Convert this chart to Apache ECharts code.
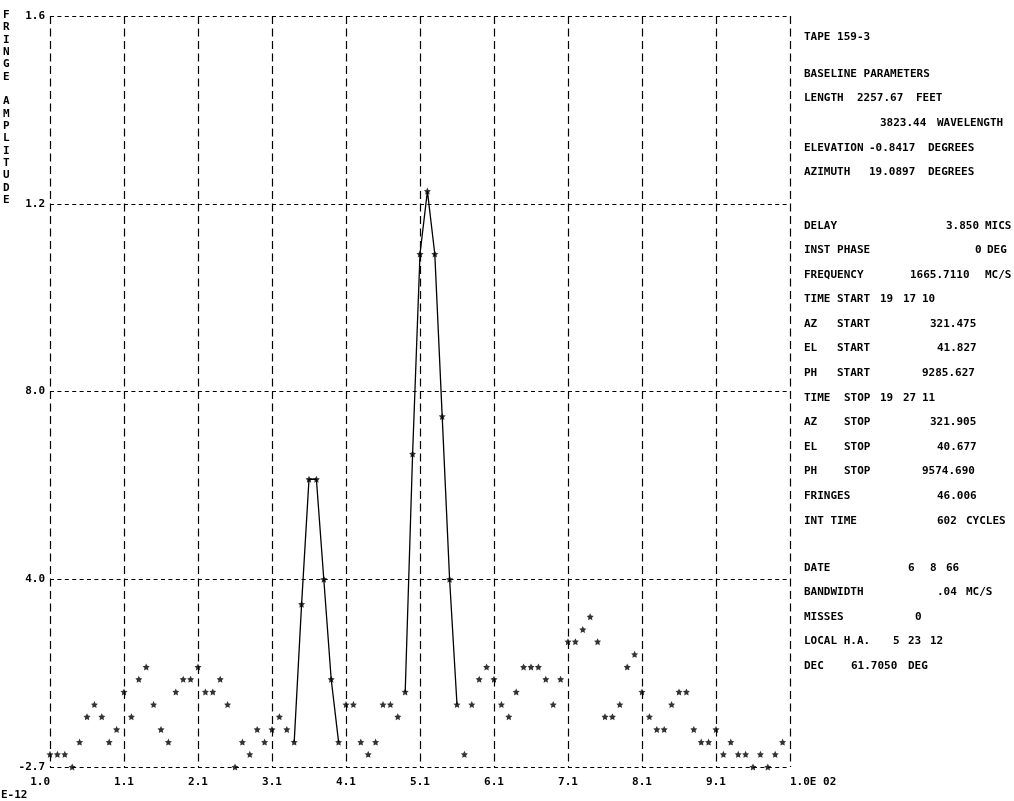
<!DOCTYPE html>
<html>
<head>
<meta charset="utf-8">
<script src="https://cdn.jsdelivr.net/npm/echarts@6/dist/echarts.min.js"></script>
<style>
  html, body { margin: 0; padding: 0; background: #fff; }
  .chart { width: 1014px; height: 801px; }
</style>
</head>
<body>
<div class="chart"></div>
<script>
// 数据（每列一个点，列号 0..99）
var amplitude = [
  0.027, 0.027, 0.027, 0, 0.053, 0.107, 0.133, 0.107, 0.053, 0.08,
  0.16, 0.107, 0.187, 0.213, 0.133, 0.08, 0.053, 0.16, 0.187, 0.187,
  0.213, 0.16, 0.16, 0.187, 0.133, 0, 0.053, 0.027, 0.08, 0.053,
  0.08, 0.107, 0.08, 0.053, 0.347, 0.613, 0.613, 0.4, 0.187, 0.053,
  0.133, 0.133, 0.053, 0.027, 0.053, 0.133, 0.133, 0.107, 0.16, 0.667,
  1.093, 1.227, 1.093, 0.747, 0.4, 0.133, 0.027, 0.133, 0.187, 0.213,
  0.187, 0.133, 0.107, 0.16, 0.213, 0.213, 0.213, 0.187, 0.133, 0.187,
  0.267, 0.267, 0.293, 0.32, 0.267, 0.107, 0.107, 0.133, 0.213, 0.24,
  0.16, 0.107, 0.08, 0.08, 0.133, 0.16, 0.16, 0.08, 0.053, 0.053,
  0.08, 0.027, 0.053, 0.027, 0.027, 0, 0.027, 0, 0.027, 0.053
];
// 连线的两段峰值（起止列）
var peakRuns = [[33, 39], [48, 55]];
var xTickLabels = ['1.0', '1.1', '2.1', '3.1', '4.1', '5.1', '6.1', '7.1', '8.1', '9.1', '1.0E 02'];
var yTickLabels = ['-2.7', '4.0', '8.0', '1.2', '1.6'];
var yTitle = 'FRINGE AMPLITUDE';

// 右侧参数说明 [y, [x, 文本]...]
var infoLines = [
  [37, [804, 'TAPE 159-3']],
  [74, [804, 'BASELINE PARAMETERS']],
  [98, [804, 'LENGTH'], [857, '2257.67'], [916, 'FEET']],
  [123, [880, '3823.44'], [937, 'WAVELENGTH']],
  [148, [804, 'ELEVATION'], [869, '-0.8417'], [928, 'DEGREES']],
  [172, [804, 'AZIMUTH'], [869, '19.0897'], [928, 'DEGREES']],
  [226, [804, 'DELAY'], [946, '3.850'], [985, 'MICS']],
  [250, [804, 'INST PHASE'], [975, '0'], [987, 'DEG']],
  [275, [804, 'FREQUENCY'], [910, '1665.7110'], [985, 'MC/S']],
  [299, [804, 'TIME'], [837, 'START'], [880, '19'], [903, '17'], [922, '10']],
  [324, [804, 'AZ'], [837, 'START'], [930, '321.475']],
  [348, [804, 'EL'], [837, 'START'], [937, '41.827']],
  [373, [804, 'PH'], [837, 'START'], [922, '9285.627']],
  [398, [804, 'TIME'], [844, 'STOP'], [880, '19'], [903, '27'], [922, '11']],
  [422, [804, 'AZ'], [844, 'STOP'], [930, '321.905']],
  [447, [804, 'EL'], [844, 'STOP'], [937, '40.677']],
  [471, [804, 'PH'], [844, 'STOP'], [922, '9574.690']],
  [496, [804, 'FRINGES'], [937, '46.006']],
  [521, [804, 'INT TIME'], [937, '602'], [966, 'CYCLES']],
  [568, [804, 'DATE'], [908, '6'], [930, '8'], [946, '66']],
  [592, [804, 'BANDWIDTH'], [937, '.04'], [966, 'MC/S']],
  [617, [804, 'MISSES'], [915, '0']],
  [641, [804, 'LOCAL H.A.'], [893, '5'], [908, '23'], [930, '12']],
  [666, [804, 'DEC'], [851, '61.7050'], [908, 'DEG']]
];

var monoFont = 'bold 11px "DejaVu Sans Mono"';
var starPath = 'path://M0,-10L2.9,-4L9.5,-3.1L4.8,1.5L5.9,8.1L0,5L-5.9,8.1L-4.8,1.5L-9.5,-3.1L-2.9,-4Z';

var points = amplitude.map(function (v, i) { return [i, v]; });

var graphics = [];
// 纵向标题
graphics.push({
  type: 'text', x: 3, y: 9,
  style: { text: yTitle.split('').join('\n'), font: monoFont, fill: '#000', lineHeight: 12.33, verticalAlign: 'top' }
});
graphics.push({
  type: 'text', x: 1, y: 795,
  style: { text: 'E-12', font: monoFont, fill: '#000', verticalAlign: 'middle' }
});
infoLines.forEach(function (line) {
  for (var k = 1; k < line.length; k++) {
    graphics.push({
      type: 'text', x: line[k][0], y: line[0],
      style: { text: line[k][1], font: monoFont, fill: '#000', verticalAlign: 'middle' }
    });
  }
});

var series = [{
  type: 'scatter',
  data: points,
  symbol: starPath,
  symbolSize: 7,
  itemStyle: { color: '#000' },
  z: 3
}];
peakRuns.forEach(function (run) {
  series.push({
    type: 'line',
    data: points.slice(run[0], run[1] + 1),
    showSymbol: false,
    lineStyle: { color: '#000', width: 1.3 },
    z: 2
  });
});

var myChart = echarts.init(document.querySelector('.chart'));
var option = {
  animation: false,
  backgroundColor: '#fff',
  grid: { left: 50, right: 224, top: 16, bottom: 34 },
  xAxis: {
    type: 'value', min: 0, max: 100, interval: 10,
    axisLine: { show: false }, axisTick: { show: false },
    axisLabel: {
      color: '#000', fontFamily: 'DejaVu Sans Mono', fontWeight: 'bold', fontSize: 11, margin: 10,
      alignMinLabel: 'right', alignMaxLabel: 'left',
      formatter: function (v) { return xTickLabels[Math.round(v / 10)]; }
    },
    splitLine: { show: true, lineStyle: { color: '#000', width: 1.2, type: [8, 4.5] } }
  },
  yAxis: {
    type: 'value', min: 0, max: 1.6, interval: 0.4,
    axisLine: { show: false }, axisTick: { show: false },
    axisLabel: {
      color: '#000', fontFamily: 'DejaVu Sans Mono', fontWeight: 'bold', fontSize: 11, margin: 5,
      formatter: function (v) { return yTickLabels[Math.round(v / 0.4)]; }
    },
    splitLine: { show: true, lineStyle: { color: '#000', width: 1.2, type: [4, 3.4] } }
  },
  graphic: graphics,
  series: series
};
myChart.setOption(option);
</script>
</body>
</html>
